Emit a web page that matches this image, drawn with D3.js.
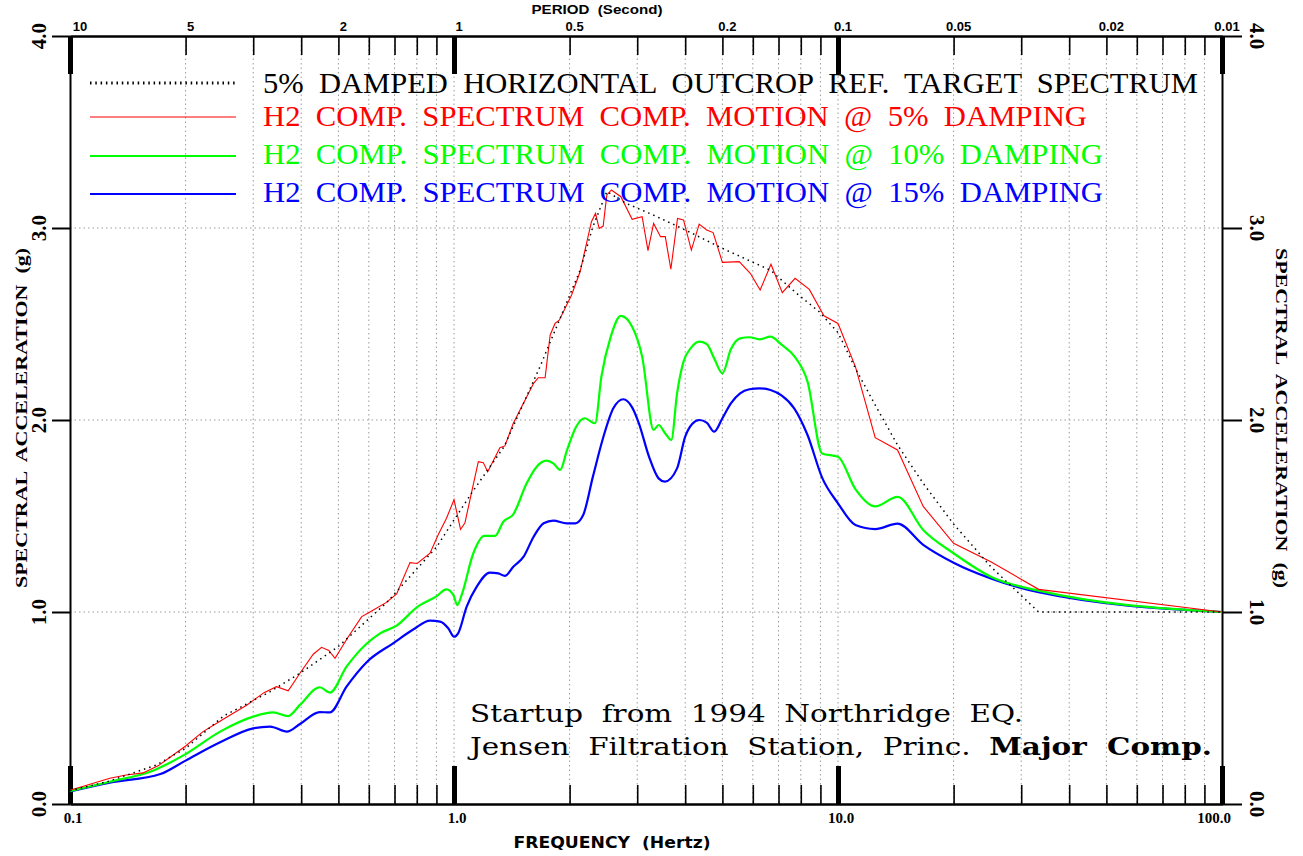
<!DOCTYPE html>
<html>
<head>
<meta charset="utf-8">
<script src="https://cdn.jsdelivr.net/npm/d3@7"></script>
<style>
  body { margin: 0; background: #fff; }
  text { white-space: pre; }
</style>
</head>
<body>
<div id="chart"></div>
<script>
// frequency ticks (Hz)
var minorFreq = [0.2, 0.3, 0.4, 0.5, 0.6, 0.7, 0.8, 0.9,
                 2, 3, 4, 5, 6, 7, 8, 9,
                 20, 30, 40, 50, 60, 70, 80, 90];
var majorFreq = [0.1, 1, 10, 100];
var freqLabels = ["0.1", "1.0", "10.0", "100.0"];
var periodFreq = [0.1, 0.2, 0.5, 1, 2, 5, 10, 20, 50, 100];
var periodLabels = ["10", "5", "2", "1", "0.5", "0.2", "0.1", "0.05", "0.02", "0.01"];
var saTicks = [0, 1, 2, 3, 4];
var saLabels = ["0.0", "1.0", "2.0", "3.0", "4.0"];
var gridSA = [1, 2, 3];

// [frequency Hz, spectral acceleration g]
var target = [[0.1, 0.07], [0.125, 0.116], [0.168, 0.203], [0.2, 0.29], [0.251, 0.458],
  [0.332, 0.585], [0.397, 0.681], [0.499, 0.819], [0.667, 1.048], [0.902, 1.34],
  [1.0, 1.479], [1.11, 1.618], [1.35, 1.861], [1.675, 2.278], [2.13, 2.78], [2.3, 3.007],
  [2.5, 3.19], [2.81, 3.128], [3.3, 3.068], [4.0, 2.99], [5.0, 2.894], [6.67, 2.78],
  [7.8, 2.66], [8.93, 2.564], [10, 2.455], [11.1, 2.269], [12.5, 2.078], [14.29, 1.87],
  [16.67, 1.67], [20, 1.458], [25, 1.236], [33.3, 1.0], [100, 1.0]];

var damp5 = [[0.1, 0.072], [0.127, 0.134], [0.14, 0.151], [0.155, 0.162], [0.17, 0.2],
  [0.2, 0.302], [0.222, 0.377], [0.25, 0.44], [0.289, 0.516], [0.32, 0.58], [0.345, 0.611],
  [0.37, 0.59], [0.397, 0.681], [0.43, 0.78], [0.452, 0.816], [0.472, 0.8], [0.49, 0.759],
  [0.53, 0.87], [0.575, 0.976], [0.604, 1.0], [0.667, 1.05], [0.709, 1.094], [0.768, 1.257],
  [0.802, 1.253], [0.866, 1.306], [0.909, 1.401], [0.956, 1.488], [1.0, 1.585], [1.04, 1.43],
  [1.068, 1.465], [1.1, 1.583], [1.157, 1.783], [1.192, 1.778], [1.224, 1.731], [1.317, 1.856],
  [1.357, 1.865], [1.427, 1.983], [1.612, 2.191], [1.657, 2.22], [1.727, 2.22], [1.78, 2.443],
  [1.833, 2.503], [1.88, 2.52], [2.024, 2.651], [2.13, 2.772], [2.28, 3.033], [2.336, 3.076],
  [2.388, 2.998], [2.446, 3.01], [2.5, 3.172], [2.57, 3.198], [2.72, 3.163], [2.91, 3.045],
  [3.09, 3.059], [3.2, 2.882], [3.31, 3.024], [3.45, 2.955], [3.55, 2.955], [3.67, 2.785],
  [3.82, 3.05], [3.96, 3.042], [4.15, 2.885], [4.35, 3.02], [4.55, 2.99], [4.73, 2.976],
  [5.0, 2.821], [5.53, 2.825], [5.91, 2.764], [6.27, 2.677], [6.69, 2.811], [7.16, 2.663],
  [7.73, 2.738], [8.42, 2.68], [9.19, 2.543], [10, 2.503], [11.1, 2.278], [12.5, 1.908],
  [14.29, 1.844], [16.67, 1.55], [20, 1.358], [25, 1.262], [33.3, 1.118], [100, 1.0]];

var damp10 = [[0.1, 0.068], [0.127, 0.116], [0.165, 0.175], [0.2, 0.26], [0.246, 0.377],
  [0.3, 0.455], [0.338, 0.477], [0.37, 0.458], [0.397, 0.516], [0.447, 0.608], [0.475, 0.58],
  [0.525, 0.715], [0.594, 0.837], [0.642, 0.889], [0.709, 0.929], [0.8, 1.024], [0.902, 1.083],
  [0.955, 1.118], [0.996, 1.089], [1.02, 1.036], [1.047, 1.089], [1.123, 1.306], [1.2, 1.396],
  [1.279, 1.396], [1.344, 1.47], [1.427, 1.509], [1.546, 1.67], [1.642, 1.757], [1.743, 1.788],
  [1.814, 1.774], [1.89, 1.74], [1.97, 1.844], [2.08, 1.965], [2.19, 2.009], [2.33, 1.983],
  [2.42, 2.226], [2.56, 2.434], [2.72, 2.542], [2.91, 2.486], [3.09, 2.33], [3.31, 1.948],
  [3.41, 1.974], [3.55, 1.93], [3.68, 1.896], [3.81, 2.139], [3.96, 2.304], [4.15, 2.378],
  [4.35, 2.408], [4.55, 2.396], [4.76, 2.321], [5.0, 2.243], [5.26, 2.368], [5.56, 2.425],
  [5.88, 2.431], [6.25, 2.42], [6.67, 2.434], [7.14, 2.391], [7.69, 2.333], [8.33, 2.2],
  [9.09, 1.826], [10, 1.809], [11.1, 1.64], [12.5, 1.55], [14.29, 1.6], [16.67, 1.427],
  [20, 1.306], [25, 1.184], [33.3, 1.111], [100, 1.0]];

var damp15 = [[0.1, 0.065], [0.127, 0.111], [0.172, 0.156], [0.2, 0.226], [0.246, 0.321],
  [0.3, 0.394], [0.332, 0.403], [0.367, 0.377], [0.397, 0.417], [0.447, 0.479], [0.475, 0.477],
  [0.525, 0.611], [0.594, 0.741], [0.694, 0.837], [0.785, 0.91], [0.866, 0.955], [0.92, 0.95],
  [0.966, 0.915], [1.0, 0.871], [1.025, 0.889], [1.079, 1.028], [1.146, 1.132], [1.24, 1.205],
  [1.304, 1.201], [1.357, 1.188], [1.427, 1.236], [1.518, 1.288], [1.612, 1.392], [1.712, 1.462],
  [1.814, 1.476], [1.967, 1.462], [2.07, 1.462], [2.17, 1.505], [2.3, 1.705], [2.45, 1.913],
  [2.6, 2.061], [2.76, 2.108], [2.91, 2.066], [3.03, 1.983], [3.22, 1.809], [3.41, 1.696],
  [3.54, 1.679], [3.81, 1.748], [4.0, 1.913], [4.17, 1.979], [4.35, 2.0], [4.55, 1.986],
  [4.76, 1.939], [5.0, 2.009], [5.26, 2.087], [5.56, 2.139], [5.88, 2.16], [6.25, 2.165],
  [6.67, 2.156], [7.14, 2.127], [7.69, 2.061], [8.33, 1.922], [9.09, 1.7], [10, 1.566],
  [11.1, 1.453], [12.5, 1.432], [14.29, 1.46], [16.67, 1.35], [20, 1.257], [25, 1.175],
  [33.3, 1.103], [100, 1.0]];

var legendLabels = [
  "5%  DAMPED  HORIZONTAL  OUTCROP  REF.  TARGET  SPECTRUM",
  "H2  COMP.  SPECTRUM  COMP.  MOTION  @  5%  DAMPING",
  "H2  COMP.  SPECTRUM  COMP.  MOTION  @  10%  DAMPING",
  "H2  COMP.  SPECTRUM  COMP.  MOTION  @  15%  DAMPING"
];

var W = 1303, H = 856;
var svg = d3.select("#chart").append("svg")
  .attr("width", W)
  .attr("height", H)
  .style("background", "#fff");

var x = d3.scaleLog().domain([0.1, 100]).range([70, 1222]);
var y = d3.scaleLinear().domain([0, 4]).range([804, 36]);

var serif = "'Liberation Serif', 'DejaVu Serif', serif";
var sans = "'Liberation Sans', Arial, sans-serif";

// grid
var grid = svg.append("g")
  .attr("stroke", "#9a9a9a")
  .attr("stroke-width", 1)
  .attr("stroke-dasharray", "1.5,3");
grid.selectAll(".gv").data(minorFreq.concat([1, 10]))
  .enter().append("line")
  .attr("x1", function(d) { return x(d); })
  .attr("x2", function(d) { return x(d); })
  .attr("y1", y(4)).attr("y2", y(0));
grid.selectAll(".gh").data(gridSA)
  .enter().append("line")
  .attr("x1", x(0.1)).attr("x2", x(100))
  .attr("y1", function(d) { return y(d); })
  .attr("y2", function(d) { return y(d); });

function styleAxis(g, w) {
  g.selectAll("line").attr("stroke", "#000").attr("stroke-width", w);
  g.selectAll("path").attr("stroke", "#000").attr("stroke-width", 2);
  g.selectAll("text").remove();
}

// bottom axis (ticks pointing in)
svg.append("g").attr("transform", "translate(0," + y(0) + ")")
  .call(d3.axisTop(x).tickValues(minorFreq).tickSize(19).tickSizeOuter(0).tickFormat(""))
  .call(styleAxis, 1.6);
svg.append("g").attr("transform", "translate(0," + y(0) + ")")
  .call(d3.axisTop(x).tickValues(majorFreq).tickSize(38).tickSizeOuter(0).tickFormat(""))
  .call(styleAxis, 5);

// top axis
svg.append("g").attr("transform", "translate(0," + y(4) + ")")
  .call(d3.axisBottom(x).tickValues(minorFreq).tickSize(19).tickSizeOuter(0).tickFormat(""))
  .call(styleAxis, 1.6);
svg.append("g").attr("transform", "translate(0," + y(4) + ")")
  .call(d3.axisBottom(x).tickValues(majorFreq).tickSize(38).tickSizeOuter(0).tickFormat(""))
  .call(styleAxis, 5);

// left and right axes (ticks pointing out)
svg.append("g").attr("transform", "translate(" + x(0.1) + ",0)")
  .call(d3.axisLeft(y).tickValues(saTicks).tickSize(18).tickSizeOuter(0).tickFormat(""))
  .call(styleAxis, 2);
svg.append("g").attr("transform", "translate(" + x(100) + ",0)")
  .call(d3.axisRight(y).tickValues(saTicks).tickSize(20).tickSizeOuter(0).tickFormat(""))
  .call(styleAxis, 2);

// bottom tick labels
svg.append("g").selectAll("text").data(majorFreq)
  .enter().append("text")
  .attr("x", function(d, i) { return x(d) + (i === 3 ? -8 : 3); })
  .attr("y", 823)
  .attr("text-anchor", "middle")
  .attr("font-family", serif)
  .attr("font-weight", "bold")
  .attr("font-size", 15)
  .text(function(d, i) { return freqLabels[i]; });

// top period labels
svg.append("g").selectAll("text").data(periodFreq)
  .enter().append("text")
  .attr("x", function(d, i) { return x(d) + (i === 0 ? 10 : 5); })
  .attr("y", 31)
  .attr("text-anchor", "middle")
  .attr("font-family", sans)
  .attr("font-weight", "bold")
  .attr("font-size", 13)
  .text(function(d, i) { return periodLabels[i]; });

// y tick labels
svg.append("g").selectAll("text").data(saTicks)
  .enter().append("text")
  .attr("transform", function(d) { return "translate(46," + y(d) + ") rotate(-90)"; })
  .attr("text-anchor", "middle")
  .attr("font-family", serif)
  .attr("font-weight", "bold")
  .attr("font-size", 21)
  .text(function(d, i) { return saLabels[i]; });
svg.append("g").selectAll("text").data(saTicks)
  .enter().append("text")
  .attr("transform", function(d) { return "translate(1250," + y(d) + ") rotate(90)"; })
  .attr("text-anchor", "middle")
  .attr("font-family", serif)
  .attr("font-weight", "bold")
  .attr("font-size", 21)
  .text(function(d, i) { return saLabels[i]; });

// axis titles
svg.append("text")
  .attr("transform", "translate(27,418) rotate(-90)")
  .attr("text-anchor", "middle")
  .attr("font-family", serif).attr("font-weight", "bold").attr("font-size", 17)
  .attr("textLength", 340).attr("lengthAdjust", "spacingAndGlyphs")
  .text("SPECTRAL  ACCELERATION  (g)");
svg.append("text")
  .attr("transform", "translate(1276,418) rotate(90)")
  .attr("text-anchor", "middle")
  .attr("font-family", serif).attr("font-weight", "bold").attr("font-size", 17)
  .attr("textLength", 340).attr("lengthAdjust", "spacingAndGlyphs")
  .text("SPECTRAL  ACCELERATION  (g)");
svg.append("text")
  .attr("x", 612).attr("y", 848)
  .attr("text-anchor", "middle")
  .attr("font-family", "'DejaVu Sans', sans-serif").attr("font-weight", "bold").attr("font-size", 16)
  .attr("textLength", 197).attr("lengthAdjust", "spacingAndGlyphs")
  .text("FREQUENCY  (Hertz)");
svg.append("text")
  .attr("x", 597).attr("y", 14)
  .attr("text-anchor", "middle")
  .attr("font-family", sans).attr("font-weight", "bold").attr("font-size", 13)
  .attr("textLength", 131).attr("lengthAdjust", "spacingAndGlyphs")
  .text("PERIOD  (Second)");

// curves
var line = d3.line()
  .x(function(d) { return x(d[0]); })
  .y(function(d) { return y(d[1]); });
var smooth = d3.line()
  .x(function(d) { return x(d[0]); })
  .y(function(d) { return y(d[1]); })
  .curve(d3.curveMonotoneX);

svg.append("path").datum(damp15)
  .attr("d", smooth).attr("fill", "none")
  .attr("stroke", "#0000ff").attr("stroke-width", 2.2);
svg.append("path").datum(damp10)
  .attr("d", smooth).attr("fill", "none")
  .attr("stroke", "#00ff00").attr("stroke-width", 2.2);
svg.append("path").datum(damp5)
  .attr("d", line).attr("fill", "none")
  .attr("stroke", "#ff0000").attr("stroke-width", 1.1);
svg.append("path").datum(target)
  .attr("d", line).attr("fill", "none")
  .attr("stroke", "#000").attr("stroke-width", 1.5)
  .attr("stroke-dasharray", "1.5,4");

// legend
var legendColors = ["#000", "#ff0000", "#00ff00", "#0000ff"];
var legendLineY = [83, 117, 156, 194];
var legendTextY = [93, 126, 164, 202];
var legendEnd = [1198, 1087, 1103, 1103];
var legendWidth = [1.5, 1.2, 2, 2];
var lg = svg.append("g");
legendLabels.forEach(function(t, i) {
  var l = lg.append("line")
    .attr("x1", 90).attr("x2", 236)
    .attr("y1", legendLineY[i]).attr("y2", legendLineY[i])
    .attr("stroke", legendColors[i])
    .attr("stroke-width", legendWidth[i]);
  if (i === 0) l.attr("stroke-dasharray", "1.5,3.8").attr("stroke-width", 3);
  lg.append("text")
    .attr("x", 263).attr("y", legendTextY[i])
    .attr("fill", legendColors[i])
    .attr("font-family", serif)
    .attr("font-size", 29)
    .attr("textLength", legendEnd[i] - 263)
    .attr("lengthAdjust", "spacingAndGlyphs")
    .text(t);
});

// annotation
var ann = svg.append("g")
  .attr("font-family", "'DejaVu Serif', serif")
  .attr("font-size", 24)
  .attr("fill", "#000");
ann.append("text").attr("x", 470).attr("y", 722)
  .attr("textLength", 553).attr("lengthAdjust", "spacingAndGlyphs")
  .text("Startup  from  1994  Northridge  EQ.");
var ann2 = ann.append("text").attr("x", 470).attr("y", 755)
  .attr("textLength", 742).attr("lengthAdjust", "spacingAndGlyphs");
ann2.append("tspan").text("Jensen  Filtration  Station,  Princ.  ");
ann2.append("tspan").attr("font-weight", "bold").text("Major  Comp.");
</script>
</body>
</html>
